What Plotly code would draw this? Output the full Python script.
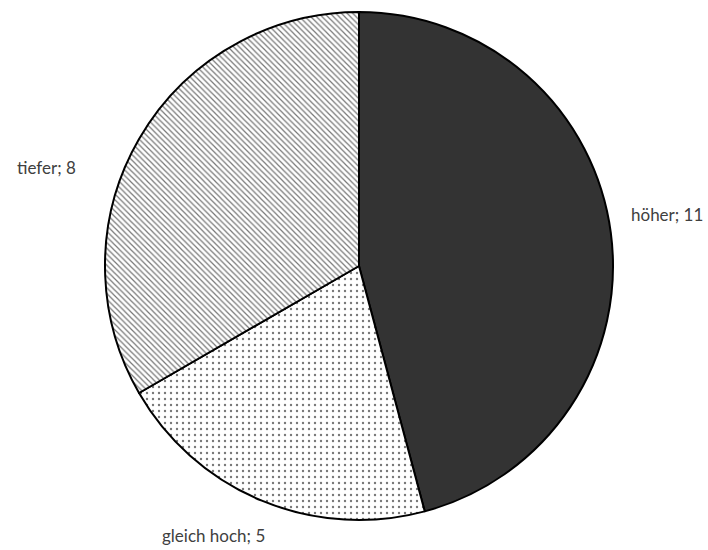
import plotly.graph_objects as go

labels = ["höher", "gleich hoch", "tiefer"]
values = [11, 5, 8]
label_text = ["höher; 11", "gleich hoch; 5", "tiefer; 8"]

W, H = 708, 550
cx, cy, R = 359, 266, 254

fig = go.Figure(go.Pie(
    labels=labels,
    values=values,
    sort=False,
    direction="clockwise",
    rotation=0,
    textinfo="none",
    hoverinfo="label+value",
    marker=dict(
        colors=["#333333", "white", "white"],
        line=dict(color="black", width=2),
        pattern=dict(
            shape=["", ".", "\\"],
            fgcolor="#777777",
            bgcolor="white",
            size=[4, 6, 4],
            solidity=[0.3, 0.12, 0.3],
        ),
    ),
    domain=dict(x=[(cx - R) / W, (cx + R) / W], y=[1 - (cy + R) / H, 1 - (cy - R) / H]),
    showlegend=False,
))

# label positions (paper coords, left-anchored)
label_pos = [(629, 215), (160, 535), (15, 167)]
for t, (x, y) in zip(label_text, label_pos):
    fig.add_annotation(
        x=x / W, y=1 - y / H, xref="paper", yref="paper",
        text=t, showarrow=False, xanchor="left", yanchor="middle",
        font=dict(family="Lato, Carlito, Calibri, sans-serif", size=17, color="#404040"),
    )

fig.update_layout(
    width=W, height=H,
    margin=dict(l=0, r=0, t=0, b=0),
    paper_bgcolor="white",
    plot_bgcolor="white",
)

fig.write_html("out.html")
